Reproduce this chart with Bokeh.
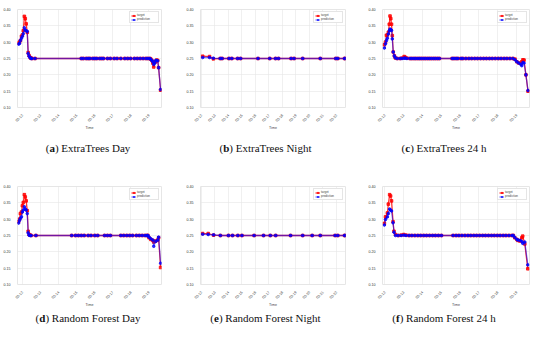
import math
from bokeh.plotting import figure
from bokeh.layouts import column, row
from bokeh.models import FixedTicker, Div, Range1d
from bokeh.embed import file_html
from bokeh.resources import INLINE

# ---------------- data (x in tick units of the time axis) ----------------
a_x = [-0.21, -0.16, -0.11, -0.05, 0.00, 0.05, 0.11, 0.16, 0.21, 0.27, 0.32, 0.37, 0.43, 0.48, 0.53, 0.70,
       3.26, 3.37, 3.53, 3.64, 3.74, 3.90, 4.01, 4.12, 4.28, 4.39, 4.49, 4.71, 4.87, 5.08, 5.24, 5.45,
       5.67, 5.83, 5.99, 6.20, 6.36, 6.52, 6.68, 6.84, 6.95, 7.06,
       7.11, 7.17, 7.22, 7.27, 7.33, 7.38, 7.43, 7.49, 7.54, 7.65]
a_target = [0.297, 0.300, 0.305, 0.318, 0.322, 0.335, 0.379, 0.372, 0.356, 0.330, 0.268, 0.259, 0.253, 0.251, 0.250, 0.250,
            0.25, 0.25, 0.25, 0.25, 0.25, 0.25, 0.25, 0.25, 0.25, 0.25, 0.25, 0.25, 0.25, 0.25, 0.25, 0.25,
            0.25, 0.25, 0.25, 0.25, 0.25, 0.25, 0.25, 0.25, 0.25, 0.25,
            0.248, 0.244, 0.236, 0.224, 0.238, 0.241, 0.245, 0.244, 0.222, 0.153]
a_pred = [0.294, 0.296, 0.305, 0.312, 0.318, 0.326, 0.344, 0.337, 0.335, 0.333, 0.265, 0.257, 0.252, 0.250, 0.250, 0.250,
          0.25, 0.25, 0.25, 0.25, 0.25, 0.25, 0.25, 0.25, 0.25, 0.25, 0.25, 0.25, 0.25, 0.25, 0.25, 0.25,
          0.25, 0.25, 0.25, 0.25, 0.25, 0.25, 0.25, 0.25, 0.25, 0.25,
          0.247, 0.244, 0.240, 0.232, 0.236, 0.244, 0.244, 0.243, 0.222, 0.155]

b_x = [0.09, 0.60, 0.88, 1.39, 1.53, 2.04, 2.25, 2.68, 2.90, 4.19, 5.06, 5.49, 5.71, 6.64, 6.86, 7.50,
       8.80, 9.95, 10.10, 10.60, 10.67]
b_target = [0.257, 0.256, 0.249, 0.250, 0.250, 0.250, 0.250, 0.250, 0.250, 0.250, 0.250, 0.250, 0.250,
            0.250, 0.250, 0.250, 0.250, 0.250, 0.250, 0.250, 0.250]
b_pred = [0.253, 0.253, 0.251, 0.250, 0.250, 0.250, 0.250, 0.250, 0.250, 0.250, 0.250, 0.250, 0.250,
          0.250, 0.250, 0.250, 0.250, 0.250, 0.250, 0.250, 0.250]

c_x = [-0.02, 0.04, 0.09, 0.14, 0.19, 0.24, 0.28, 0.32, 0.36, 0.40, 0.45, 0.51, 0.56, 0.66, 0.82, 0.92,
       1.03, 1.08, 1.18, 1.34,
       1.44, 1.55, 1.65, 1.76, 1.86, 1.96, 2.07, 2.17, 2.28, 2.38, 2.48, 2.59, 2.69, 2.80, 2.90,
       3.58, 3.68, 3.79, 3.89, 4.05, 4.15, 4.31, 4.47, 4.62, 4.78, 4.93, 5.09, 5.25, 5.40, 5.56,
       5.71, 5.87, 6.03, 6.18, 6.34, 6.49, 6.65, 6.81,
       6.92, 7.02, 7.12, 7.23, 7.28, 7.34, 7.40, 7.50, 7.61]
c_target = [0.292, 0.300, 0.321, 0.322, 0.330, 0.355, 0.380, 0.372, 0.355, 0.320, 0.270, 0.258, 0.252, 0.250, 0.250, 0.251,
            0.256, 0.254, 0.251, 0.250,
            0.25, 0.25, 0.25, 0.25, 0.25, 0.25, 0.25, 0.25, 0.25, 0.25, 0.25, 0.25, 0.25, 0.25, 0.25,
            0.25, 0.25, 0.25, 0.25, 0.25, 0.25, 0.25, 0.25, 0.25, 0.25, 0.25, 0.25, 0.25, 0.25, 0.25,
            0.25, 0.25, 0.25, 0.25, 0.25, 0.25, 0.25, 0.25,
            0.248, 0.240, 0.236, 0.235, 0.240, 0.246, 0.245, 0.200, 0.150]
c_pred = [0.282, 0.295, 0.305, 0.312, 0.325, 0.335, 0.340, 0.338, 0.336, 0.310, 0.270, 0.258, 0.252, 0.250, 0.250, 0.250,
          0.251, 0.251, 0.250, 0.250,
          0.25, 0.25, 0.25, 0.25, 0.25, 0.25, 0.25, 0.25, 0.25, 0.25, 0.25, 0.25, 0.25, 0.25, 0.25,
          0.25, 0.25, 0.25, 0.25, 0.25, 0.25, 0.25, 0.25, 0.25, 0.25, 0.25, 0.25, 0.25, 0.25, 0.25,
          0.25, 0.25, 0.25, 0.25, 0.25, 0.25, 0.25, 0.25,
          0.246, 0.240, 0.236, 0.232, 0.228, 0.238, 0.236, 0.200, 0.152]

d_x = [-0.21, -0.16, -0.11, -0.05, 0.00, 0.05, 0.11, 0.16, 0.21, 0.27, 0.32, 0.37, 0.43, 0.48, 0.75,
       2.73, 2.94, 3.10, 3.26, 3.42, 3.64, 3.80, 4.01, 4.17, 4.55, 4.71, 4.87, 5.45, 5.61, 5.78, 5.94,
       6.10, 6.31, 6.47, 6.63, 6.79, 6.90,
       6.95, 7.01, 7.11, 7.22, 7.27, 7.38, 7.49, 7.54, 7.65]
d_target = [0.292, 0.300, 0.317, 0.322, 0.341, 0.351, 0.375, 0.368, 0.356, 0.326, 0.263, 0.253, 0.251, 0.250, 0.250,
            0.25, 0.25, 0.25, 0.25, 0.25, 0.25, 0.25, 0.25, 0.25, 0.25, 0.25, 0.25, 0.25, 0.25, 0.25, 0.25,
            0.25, 0.25, 0.25, 0.25, 0.25, 0.25,
            0.250, 0.243, 0.238, 0.235, 0.230, 0.233, 0.236, 0.243, 0.152]
d_pred = [0.288, 0.296, 0.302, 0.307, 0.322, 0.328, 0.338, 0.331, 0.328, 0.317, 0.258, 0.251, 0.250, 0.250, 0.250,
          0.25, 0.25, 0.25, 0.25, 0.25, 0.25, 0.25, 0.25, 0.25, 0.25, 0.25, 0.25, 0.25, 0.25, 0.25, 0.25,
          0.25, 0.25, 0.25, 0.25, 0.25, 0.25,
          0.250, 0.245, 0.240, 0.236, 0.217, 0.232, 0.236, 0.245, 0.165]

e_x = [0.09, 0.50, 0.90, 1.40, 2.00, 2.30, 2.70, 3.00, 3.90, 4.60, 5.10, 5.50, 6.60, 7.50, 8.20,
       8.80, 9.90, 10.10, 10.60, 10.67]
e_target = [0.256, 0.256, 0.251, 0.250, 0.250, 0.250, 0.250, 0.250, 0.250, 0.250, 0.250, 0.250, 0.250,
            0.250, 0.250, 0.250, 0.250, 0.250, 0.250, 0.250]
e_pred = [0.254, 0.253, 0.252, 0.250, 0.250, 0.250, 0.250, 0.250, 0.250, 0.250, 0.250, 0.250, 0.250,
          0.250, 0.250, 0.250, 0.250, 0.250, 0.250, 0.250]

f_x = [-0.02, 0.04, 0.14, 0.19, 0.26, 0.31, 0.36, 0.44, 0.49, 0.57, 0.71, 0.87, 1.01, 1.13, 1.29,
       1.44, 1.60, 1.76, 1.91, 2.07, 2.22, 2.38, 2.54, 2.69, 2.85, 3.01,
       3.63, 3.79, 3.94, 4.10, 4.26, 4.42, 4.57, 4.73, 4.88, 5.04, 5.20, 5.35, 5.51, 5.67, 5.82,
       5.98, 6.13, 6.29, 6.44, 6.60, 6.76,
       6.83, 6.91, 7.02, 7.07, 7.18, 7.28, 7.33, 7.44, 7.60]
f_target = [0.287, 0.307, 0.319, 0.346, 0.375, 0.371, 0.356, 0.292, 0.263, 0.253, 0.250, 0.251, 0.253, 0.251, 0.250,
            0.25, 0.25, 0.25, 0.25, 0.25, 0.25, 0.25, 0.25, 0.25, 0.25, 0.25,
            0.25, 0.25, 0.25, 0.25, 0.25, 0.25, 0.25, 0.25, 0.25, 0.25, 0.25, 0.25, 0.25, 0.25, 0.25,
            0.25, 0.25, 0.25, 0.25, 0.25, 0.25,
            0.250, 0.243, 0.238, 0.235, 0.233, 0.243, 0.248, 0.224, 0.148]
f_pred = [0.282, 0.299, 0.307, 0.317, 0.331, 0.328, 0.325, 0.289, 0.260, 0.250, 0.250, 0.250, 0.251, 0.250, 0.250,
          0.25, 0.25, 0.25, 0.25, 0.25, 0.25, 0.25, 0.25, 0.25, 0.25, 0.25,
          0.25, 0.25, 0.25, 0.25, 0.25, 0.25, 0.25, 0.25, 0.25, 0.25, 0.25, 0.25, 0.25, 0.25, 0.25,
          0.25, 0.25, 0.25, 0.25, 0.25, 0.25,
          0.250, 0.244, 0.238, 0.236, 0.235, 0.232, 0.226, 0.230, 0.160]

day_ticks = ["03-12", "03-13", "03-14", "03-15", "03-16", "03-17", "03-18", "03-19"]
night_ticks = ["03-12", "03-13", "03-14", "03-15", "03-16", "03-17",
               "03-18", "03-19", "03-20", "03-21", "03-22"]
full_ticks = ["03-12", "03-13", "03-14", "03-15", "03-16", "03-17", "03-18", "03-19"]
y_ticks = [0.10, 0.15, 0.20, 0.25, 0.30, 0.35, 0.40]

captions_top = [("a", "ExtraTrees Day"), ("b", "ExtraTrees Night"), ("c", "ExtraTrees 24 h")]
captions_bottom = [("d", "Random Forest Day"), ("e", "Random Forest Night"), ("f", "Random Forest 24 h")]


def panel(x, tgt, pred, labels, xr, width, height, bl, br, bt, bb):
    p = figure(width=width, height=height, output_backend="svg", toolbar_location=None,
               x_range=Range1d(*xr), y_range=Range1d(0.10, 0.40),
               min_border_left=bl, min_border_right=br, min_border_top=bt, min_border_bottom=bb)
    p.line(x, tgt, color="#ff0000", line_width=1.3, line_alpha=0.8, legend_label="target")
    p.scatter(x, tgt, marker="square", size=2.6, color="#ff0000", alpha=0.8, legend_label="target")
    p.line(x, pred, color="#0000ff", line_width=1.3, line_alpha=0.55, legend_label="prediction")
    p.scatter(x, pred, marker="circle", size=2.6, color="#0000ff", alpha=0.8, legend_label="prediction")

    ticks = list(range(len(labels)))
    p.xaxis.ticker = FixedTicker(ticks=ticks)
    p.xaxis.major_label_overrides = {t: l for t, l in zip(ticks, labels)}
    p.xaxis.major_label_orientation = math.pi / 4
    p.yaxis.ticker = FixedTicker(ticks=y_ticks)
    p.yaxis.major_label_overrides = {v: f"{v:.2f}" for v in y_ticks}
    p.xaxis.axis_label = "Time"
    for ax in (p.xaxis[0], p.yaxis[0]):
        ax.axis_line_color = None
        ax.major_tick_line_color = None
        ax.minor_tick_line_color = None
        ax.major_label_text_font_size = "3.6px"
        ax.major_label_text_color = "#333333"
        ax.major_label_standoff = 1
        ax.axis_label_text_font_size = "3.6px"
        ax.axis_label_text_font_style = "normal"
        ax.axis_label_standoff = 0
    p.xgrid.grid_line_color = "#e6e6e6"
    p.ygrid.grid_line_color = "#e6e6e6"
    p.xgrid.grid_line_width = 0.6
    p.ygrid.grid_line_width = 0.6
    p.outline_line_color = "#e6e6e6"
    p.legend.location = "top_right"
    p.legend.label_text_font_size = "3px"
    p.legend.glyph_width = 5
    p.legend.glyph_height = 3
    p.legend.label_height = 3
    p.legend.label_standoff = 1
    p.legend.spacing = 0
    p.legend.padding = 1
    p.legend.margin = 2
    p.legend.border_line_color = "#cccccc"
    p.legend.border_line_width = 0.5
    return p


fa = panel(a_x, a_target, a_pred, day_ticks, (-0.27, 7.7), 180, 136, 16, 19, 9, 29)
fb = panel(b_x, b_target, b_pred, night_ticks, (-0.07, 10.67), 178, 136, 20, 13, 9, 29)
fc = panel(c_x, c_target, c_pred, full_ticks, (-0.12, 7.69), 176, 136, 24, 5, 9, 29)
fd = panel(d_x, d_target, d_pred, day_ticks, (-0.27, 7.7), 180, 134, 9, 19, 9, 27)
fe = panel(e_x, e_target, e_pred, night_ticks, (-0.07, 10.67), 178, 134, 20, 13, 9, 27)
ff = panel(f_x, f_target, f_pred, full_ticks, (-0.12, 7.69), 176, 134, 24, 5, 9, 27)
fd.min_border_left = 16

centers = [88, 265.5, 444]


def caption_div(caps, height, top):
    spans = "".join(
        f'<span style="position:absolute;left:{cx}px;top:{top}px;transform:translateX(-50%);'
        f'white-space:nowrap;">(<b>{k}</b>) {t}</span>'
        for cx, (k, t) in zip(centers, caps))
    html = (f'<div style="position:relative;width:534px;height:{height}px;'
            f'font-family:\'Liberation Serif\',serif;font-size:11px;line-height:12px;color:#111;">'
            f'{spans}</div>')
    return Div(text=html, width=534, height=height, margin=(0, 0, 0, 0))


cap1 = caption_div(captions_top, 41, 6)
cap2 = caption_div(captions_bottom, 27, 1)

layout = column(row(fa, fb, fc, spacing=0), cap1, row(fd, fe, ff, spacing=0), cap2, spacing=0)

open("out.html", "w").write(file_html(layout, INLINE))
